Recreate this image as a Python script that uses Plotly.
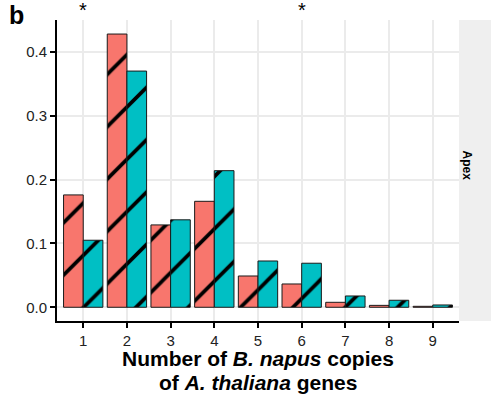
import plotly.graph_objects as go

copies = [1, 2, 3, 4, 5, 6, 7, 8, 9]
series_a = [0.176, 0.428, 0.129, 0.166, 0.049, 0.0365, 0.0078, 0.003, 0.0015]
series_b = [0.105, 0.370, 0.137, 0.214, 0.0725, 0.069, 0.0177, 0.011, 0.0036]
y_ticks = [0.0, 0.1, 0.2, 0.3, 0.4]
y_ticklabels = ["0.0", "0.1", "0.2", "0.3", "0.4"]
star_positions = [1, 6]
strip_label = "Apex"
panel_label = "b"
x_title_lines = ["<b>Number of <i>B. napus</i> copies</b>",
                 "<b>of <i>A. thaliana</i> genes</b>"]

RED = "#F8766D"
TEAL = "#00BFC4"
FONT = "Liberation Sans"

W, H = 491, 396
ML, MR, MT, MB = 57, 32, 20, 75
PW = W - ML - MR
PH = H - MT - MB


def bar(values, color, name):
    return go.Bar(
        x=copies, y=values, name=name,
        marker=dict(
            color=color,
            line=dict(color="#1a1a1a", width=1),
            pattern=dict(shape="/", size=37, solidity=0.1,
                         fgcolor="black", bgcolor=color, fillmode="replace"),
        ),
        showlegend=False, hoverinfo="skip",
    )


fig = go.Figure([bar(series_a, RED, "A"), bar(series_b, TEAL, "B")])

fig.update_layout(
    width=W, height=H,
    margin=dict(l=ML, r=MR, t=MT, b=MB, pad=0),
    paper_bgcolor="white", plot_bgcolor="white",
    barmode="group", bargap=0.1, bargroupgap=0,
    font=dict(family=FONT, color="#1a1a1a"),
)

fig.update_xaxes(
    range=[0.4, 9.6], tickmode="array", tickvals=copies,
    ticktext=[str(c) for c in copies], automargin=False,
    showgrid=True, gridcolor="#EBEBEB", gridwidth=1.5,
    showline=True, linecolor="black", linewidth=2,
    ticks="outside", ticklen=5, tickwidth=1.5, tickcolor="black",
    tickfont=dict(size=15, color="#222"), zeroline=False,
)
fig.update_yaxes(
    range=[-0.0215, 0.45], tickmode="array", tickvals=y_ticks, ticktext=y_ticklabels,
    automargin=False,
    showgrid=True, gridcolor="#EBEBEB", gridwidth=1.5,
    showline=True, linecolor="black", linewidth=2,
    ticks="outside", ticklen=5, tickwidth=1.5, tickcolor="black",
    tickfont=dict(size=15, color="#222"), zeroline=False,
)

# x-axis title, two lines
for i, line in enumerate(x_title_lines):
    fig.add_annotation(text=line, xref="paper", yref="paper", x=0.5, xanchor="center",
                       y=-(25 + 24 * i) / PH, yanchor="top", showarrow=False,
                       borderpad=0, font=dict(size=21, color="black"))

# facet strip on the right
fig.add_shape(type="rect", xref="paper", yref="paper",
              x0=1, x1=1 + (MR + 2) / PW, y0=0, y1=1,
              fillcolor="#EFEFEF", line=dict(width=0), layer="below")
fig.add_annotation(text="<b>" + strip_label + "</b>", xref="paper", yref="paper",
                   x=1 + 17 / PW, y=0.5 + 5 / PH, textangle=90, showarrow=False,
                   font=dict(size=12, color="black"))

for s in star_positions:
    fig.add_annotation(text="*", x=s, xref="x", yref="paper", y=1,
                       yanchor="bottom", yshift=-3, showarrow=False,
                       font=dict(size=20, color="black"))

fig.add_annotation(text="<b>" + panel_label + "</b>", xref="paper", yref="paper",
                   x=(8 - ML) / PW, xanchor="left", y=1 + MT / PH, yanchor="top",
                   borderpad=0, showarrow=False, font=dict(size=25, color="black"))

fig.write_html("out.html", config={"displayModeBar": False},
               post_script="document.body.style.margin='0';document.body.style.padding='0';")
